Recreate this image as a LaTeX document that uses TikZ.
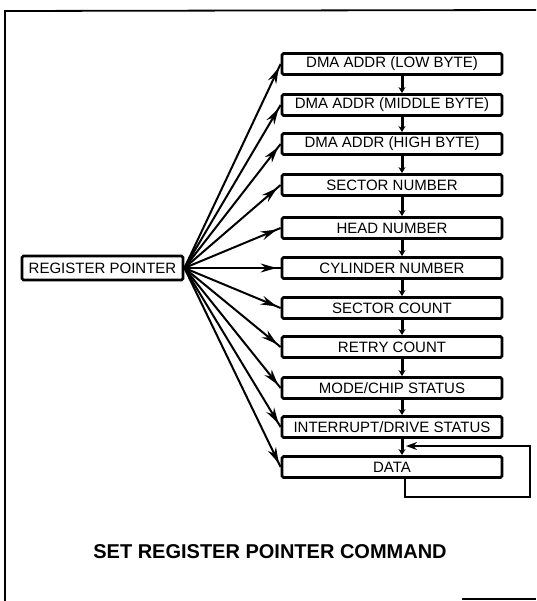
\documentclass[tikz,border=0pt]{standalone}
\usepackage{fontspec}
\setmainfont{Liberation Sans}
\usetikzlibrary{arrows.meta,decorations.markings}
\begin{document}
\begin{tikzpicture}[x=1pt,y=-1pt,
  regbox/.style={draw,line width=2.8pt,rounded corners=1.5pt,minimum width=220pt,minimum height=21pt,inner sep=0pt,font=\fontsize{15}{17}\selectfont,fill=white},
  fan/.style={line width=2pt,postaction={decorate},decoration={markings,mark=at position -4pt with {\arrow{Stealth[length=16pt,width=9pt]}}}},
  link/.style={line width=3pt,-{Stealth[length=6pt,width=7pt]}},
  frame/.style={line width=1.8pt},
]
\useasboundingbox (0,0) rectangle (536,601);
% frame
\draw[frame] (536,10) -- (5,11) -- (5,601);
\draw[frame] (462,599) -- (536,599);
% register boxes
\node[regbox] (b1)  at (392,64)  {DMA ADDR (LOW BYTE)};
\node[regbox] (b2)  at (392,105) {DMA ADDR (MIDDLE BYTE)};
\node[regbox] (b3)  at (392,144) {DMA ADDR (HIGH BYTE)};
\node[regbox] (b4)  at (392,185) {SECTOR NUMBER};
\node[regbox] (b5)  at (392,228) {HEAD NUMBER};
\node[regbox] (b6)  at (392,268) {CYLINDER NUMBER};
\node[regbox] (b7)  at (392,308) {SECTOR COUNT};
\node[regbox] (b8)  at (392,347) {RETRY COUNT};
\node[regbox] (b9)  at (392,388) {MODE/CHIP STATUS};
\node[regbox] (b10) at (392,427) {INTERRUPT/DRIVE STATUS};
\node[regbox] (b11) at (392,467) {DATA};
% register pointer
\node[draw,line width=2.8pt,rounded corners=1.5pt,minimum width=161pt,minimum height=24pt,inner sep=0pt,font=\fontsize{15}{17}\selectfont] (rp) at (102.5,268) {REGISTER POINTER};
% fan arrows
\foreach \i in {1,...,11} \draw[fan] (rp.east) -- (b\i.west);
% chain links
\foreach \i/\j in {1/2,2/3,3/4,4/5,5/6,6/7,7/8,8/9,9/10,10/11}
  \draw[link] ([xshift=10pt]b\i.south) -- ([xshift=10pt]b\j.north);
% feedback loop
\coordinate (fb) at (406,446);
\draw[line width=2.4pt,-{Stealth[length=11pt,width=8pt]}] ([xshift=13pt]b11.south) |- (530,497) |- (fb);
% title
\node[font=\bfseries\fontsize{20}{22}\selectfont] (title) at (270,551.5) {SET REGISTER POINTER COMMAND};
\end{tikzpicture}
\end{document}
